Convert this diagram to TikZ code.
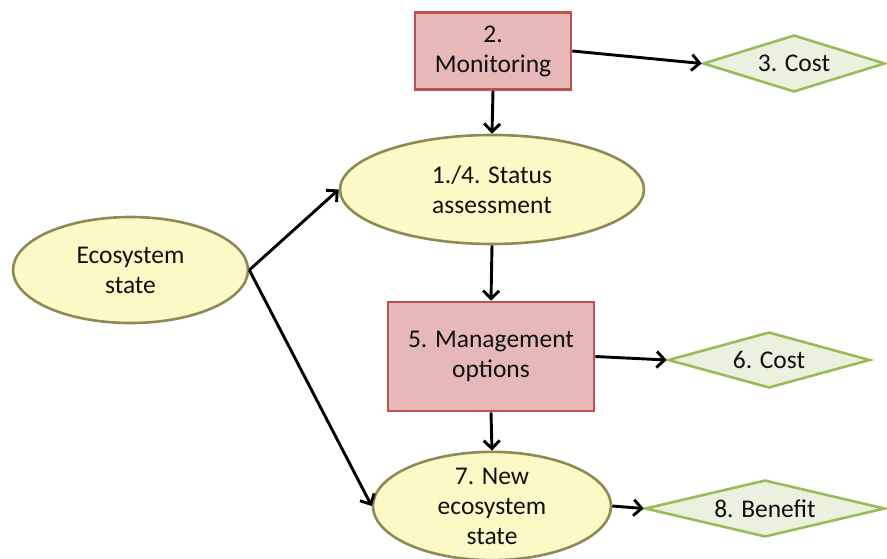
\documentclass[tikz,border=0pt]{standalone}
\usepackage{fontspec}
\setmainfont{Carlito}
\usetikzlibrary{shapes.geometric,arrows.meta}
\definecolor{boxfill}{HTML}{E6B9B8}
\definecolor{boxline}{HTML}{C0504D}
\definecolor{ellfill}{HTML}{FBF9C6}
\definecolor{ellline}{HTML}{8F8A55}
\definecolor{diafill}{HTML}{EBF1DE}
\definecolor{dialine}{HTML}{9BBB59}
\definecolor{txt}{HTML}{111111}
\tikzset{
  base/.style={font=\fontsize{25.5}{30}\selectfont, text=txt, align=center, inner sep=0pt, line width=2.6pt},
  rbox/.style={base, rectangle, draw=boxline, fill=boxfill},
  ell/.style={base, ellipse, draw=ellline, fill=ellfill},
  dia/.style={base, diamond, aspect=3.2, draw=dialine, fill=diafill},
  arr/.style={line width=2.9pt, black, -{Straight Barb[length=8pt,width=16pt,line width=2.9pt]}}
}
\begin{document}
\begin{tikzpicture}[x=1pt,y=-1pt]
\useasboundingbox (0,0) rectangle (887,558);
\node[rbox, minimum width=156pt, minimum height=77pt] (mon) at (493,51) {2.\\Monitoring};
\node[dia, minimum width=182pt, minimum height=57pt] (cost3) at (794,63.5) {3. Cost};
\node[ell, minimum width=304pt, minimum height=109pt] (status) at (492,189.5) {1./4. Status\\assessment};
\node[ell, minimum width=235pt, minimum height=106pt] (eco) at (130.5,270) {Ecosystem\\state};
\node[rbox, minimum width=206pt, minimum height=109pt] (mgmt) at (491,356.5) {5. Management\\options};
\node[dia, minimum width=202pt, minimum height=56pt] (cost6) at (769,360) {6. Cost};
\node[ell, minimum width=238pt, minimum height=108pt] (neweco) at (492,506) {7. New\\ecosystem\\state};
\node[dia, minimum width=240pt, minimum height=57pt] (ben) at (765,508.5) {8. Benefit};
\draw[arr] (mon.east) -- (cost3.west);
\draw[arr] (mon.south) -- (status.north);
\draw[arr] (status.south) -- (mgmt.north);
\draw[arr] (mgmt.east) -- (cost6.west);
\draw[arr] (mgmt.south) -- (neweco.north);
\draw[arr] (neweco.east) -- (ben.west);
\draw[arr] (eco.east) -- (status.west);
\draw[arr] (eco.east) -- (neweco.west);
\end{tikzpicture}
\end{document}
